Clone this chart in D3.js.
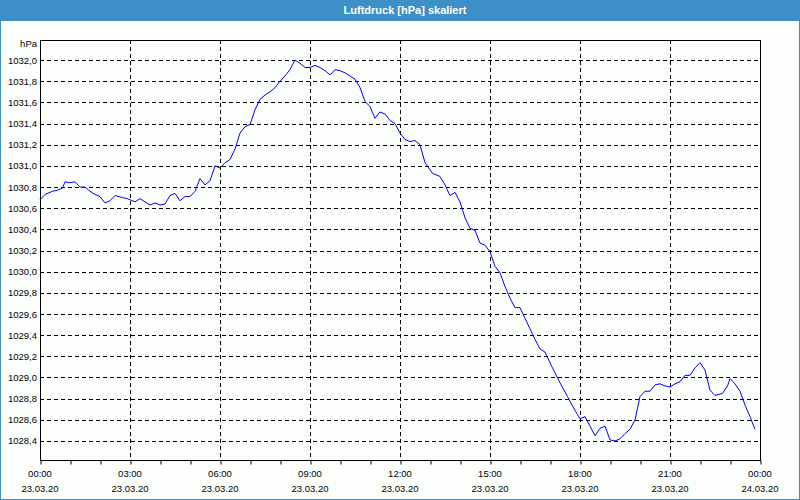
<html>
<head>
	<title>Luftdruck [hPa] skaliert</title>
	<script src="https://d3js.org/d3.v7.min.js"></script>
</head>
<body>
	<style> *{
		margin: 0px;
		padding: 0px;
	}
	body { background: #ffffff; }
	text { font-family: "Liberation Sans", Arial, sans-serif; }
	</style>

	<svg id="SVGcanvas" width="800" height="500" xmlns="http://www.w3.org/2000/svg"></svg>

	<script>
	// readings of 23.03.20, time of day and pressure in hPa
	var times = ["00:00","00:10","00:25","00:35","00:45","00:50","01:00","01:10","01:20","01:30",
		"01:40","01:50","02:00","02:10","02:20","02:30","02:45","02:55","03:00","03:10",
		"03:20","03:30","03:40","03:50","04:00","04:10","04:20","04:30","04:40","04:50",
		"05:00","05:10","05:20","05:30","05:40","05:50","06:00","06:10","06:20","06:30",
		"06:40","06:50","07:00","07:10","07:20","07:30","07:40","07:50","08:00","08:10",
		"08:20","08:30","08:40","08:50","09:00","09:10","09:20","09:30","09:40","09:50",
		"10:00","10:10","10:20","10:30","10:40","10:50","11:00","11:10","11:20","11:30",
		"11:40","11:50","12:00","12:10","12:20","12:30","12:40","12:50","13:05","13:20",
		"13:30","13:40","13:50","14:00","14:10","14:20","14:30","14:40","14:50","15:00",
		"15:10","15:20","15:30","15:40","15:50","16:00","16:10","16:20","16:30","16:40",
		"16:50","17:05","17:20","17:35","17:45","17:55","18:00","18:10","18:20","18:30",
		"18:40","18:50","19:00","19:10","19:20","19:30","19:40","19:50","20:00","20:10",
		"20:20","20:30","20:40","20:50","21:00","21:10","21:20","21:30","21:40","21:50",
		"22:00","22:10","22:20","22:30","22:45","22:55","23:00","23:10","23:20","23:30",
		"23:40","23:50"];
	var pressure = [1030.68,1030.73,1030.76,1030.77,1030.79,1030.85,1030.84,1030.85,1030.80,1030.80,
		1030.76,1030.73,1030.71,1030.65,1030.67,1030.72,1030.70,1030.69,1030.68,1030.66,
		1030.69,1030.66,1030.63,1030.65,1030.63,1030.64,1030.72,1030.74,1030.67,1030.71,
		1030.71,1030.76,1030.88,1030.82,1030.86,1031.00,1030.98,1031.03,1031.06,1031.16,
		1031.31,1031.37,1031.39,1031.53,1031.63,1031.67,1031.70,1031.74,1031.80,1031.85,
		1031.91,1032.00,1031.97,1031.93,1031.93,1031.95,1031.93,1031.90,1031.86,1031.91,
		1031.90,1031.88,1031.85,1031.82,1031.74,1031.61,1031.56,1031.45,1031.51,1031.49,
		1031.43,1031.40,1031.31,1031.25,1031.23,1031.24,1031.20,1031.03,1030.93,1030.90,
		1030.82,1030.72,1030.75,1030.66,1030.51,1030.41,1030.39,1030.27,1030.25,1030.19,
		1030.05,1029.99,1029.86,1029.75,1029.66,1029.66,1029.56,1029.46,1029.36,1029.27,
		1029.24,1029.09,1028.95,1028.82,1028.73,1028.65,1028.61,1028.63,1028.54,1028.45,
		1028.52,1028.54,1028.41,1028.40,1028.42,1028.47,1028.51,1028.60,1028.82,1028.87,
		1028.87,1028.93,1028.94,1028.92,1028.91,1028.94,1028.96,1029.02,1029.02,1029.09,
		1029.14,1029.07,1028.88,1028.83,1028.85,1028.92,1028.99,1028.94,1028.87,1028.74,
		1028.63,1028.51];
	var yTicks = [1028.4,1028.6,1028.8,1029.0,1029.2,1029.4,1029.6,1029.8,1030.0,
		1030.2,1030.4,1030.6,1030.8,1031.0,1031.2,1031.4,1031.6,1031.8,1032.0];
	var xTickLabels = ["00:00","03:00","06:00","09:00","12:00","15:00","18:00","21:00","00:00"];
	var xDateLabels = ["23.03.20","23.03.20","23.03.20","23.03.20","23.03.20","23.03.20","23.03.20","23.03.20","24.03.20"];

	var parseTime = d3.timeParse( "%Y-%m-%d %H:%M" );
	var startDate = parseTime( "2020-03-23 00:00" ), endDate = parseTime( "2020-03-24 00:00" );
	var data = times.map( function ( t, i ) {
		return { date: parseTime( "2020-03-23 " + t ), value: pressure[i] };
	});

	// plot area ("top" is taken by window.top, so prefixed names)
	var plotLeft = 40, plotRight = 760, plotTop = 40, plotBottom = 460;
	var svg = d3.select( "#SVGcanvas" );

	// frame and title bar
	svg.append( "rect" ).attr( "x", 0.5 ).attr( "y", 0.5 ).attr( "width", 799 ).attr( "height", 499 )
		.attr( "fill", "#fcfefc" ).attr( "stroke", "#3c8fc7" );
	svg.append( "rect" ).attr( "x", 0 ).attr( "y", 0 ).attr( "width", 800 ).attr( "height", 21 )
		.attr( "fill", "#3c8fc7" );
	svg.append( "text" ).attr( "x", 405 ).attr( "y", 14 ).attr( "text-anchor", "middle" )
		.attr( "fill", "#ffffff" ).attr( "font-size", "11px" ).attr( "font-weight", "bold" )
		.text( "Luftdruck [hPa] skaliert" );

	var x = d3.scaleTime().domain( [startDate, endDate] ).range( [plotLeft, plotRight] );
	var y = d3.scaleLinear().domain( [1028.22, 1032.19] ).range( [plotBottom, plotTop] );

	// dashed grid
	svg.append( "g" ).selectAll( "line" ).data( yTicks ).enter().append( "line" )
		.attr( "x1", plotLeft ).attr( "x2", plotRight )
		.attr( "y1", function ( d ) { return Math.round( y( d ) ) + 0.5; } )
		.attr( "y2", function ( d ) { return Math.round( y( d ) ) + 0.5; } )
		.attr( "stroke", "#000" ).attr( "stroke-dasharray", "4,3" );
	var xGrid = d3.timeHour.every( 3 ).range( startDate, endDate ).slice( 1 );
	svg.append( "g" ).selectAll( "line" ).data( xGrid ).enter().append( "line" )
		.attr( "x1", function ( d ) { return Math.round( x( d ) ) + 0.5; } )
		.attr( "x2", function ( d ) { return Math.round( x( d ) ) + 0.5; } )
		.attr( "y1", plotTop ).attr( "y2", plotBottom )
		.attr( "stroke", "#000" ).attr( "stroke-dasharray", "4,3" );

	// plot border
	svg.append( "rect" ).attr( "x", plotLeft + 0.5 ).attr( "y", plotTop + 0.5 )
		.attr( "width", plotRight - plotLeft ).attr( "height", plotBottom - plotTop )
		.attr( "fill", "none" ).attr( "stroke", "#000" );

	// hourly ticks under the time axis
	var xAxis = d3.axisBottom( x ).ticks( d3.timeHour.every( 1 ) ).tickSize( 4 ).tickFormat( "" );
	var gx = svg.append( "g" ).attr( "transform", "translate(0.5," + ( plotBottom + 0.5 ) + ")" ).call( xAxis );
	gx.select( ".domain" ).remove();

	// time labels, two lines
	var labelDates = d3.timeHour.every( 3 ).range( startDate, d3.timeMinute.offset( endDate, 1 ) );
	svg.append( "g" ).selectAll( "text" ).data( labelDates ).enter().append( "text" )
		.attr( "x", function ( d ) { return x( d ); } ).attr( "y", 477 )
		.attr( "text-anchor", "middle" ).attr( "font-size", "9.5px" ).attr( "fill", "#000" )
		.text( function ( d, i ) { return xTickLabels[i]; } );
	svg.append( "g" ).selectAll( "text" ).data( labelDates ).enter().append( "text" )
		.attr( "x", function ( d ) { return x( d ); } ).attr( "y", 492 )
		.attr( "text-anchor", "middle" ).attr( "font-size", "9.5px" ).attr( "fill", "#000" )
		.text( function ( d, i ) { return xDateLabels[i]; } );

	// pressure labels
	var yFormat = function ( d ) { return d3.format( ".1f" )( d ).replace( ".", "," ); };
	svg.append( "g" ).selectAll( "text" ).data( yTicks ).enter().append( "text" )
		.attr( "x", 37 ).attr( "y", function ( d ) { return y( d ) + 3.5; } )
		.attr( "text-anchor", "end" ).attr( "font-size", "9.5px" ).attr( "fill", "#000" )
		.text( yFormat );
	svg.append( "text" ).attr( "x", 37 ).attr( "y", 47 ).attr( "text-anchor", "end" )
		.attr( "font-size", "9.5px" ).attr( "fill", "#000" ).text( "hPa" );

	// pressure curve
	var line = d3.line()
		.x( function ( d ) { return x( d.date ); } )
		.y( function ( d ) { return y( d.value ); } );
	svg.append( "path" ).datum( data ).attr( "d", line )
		.attr( "fill", "none" ).attr( "stroke", "#0000ff" ).attr( "stroke-width", 1 );
	</script>
</body>
</html>
